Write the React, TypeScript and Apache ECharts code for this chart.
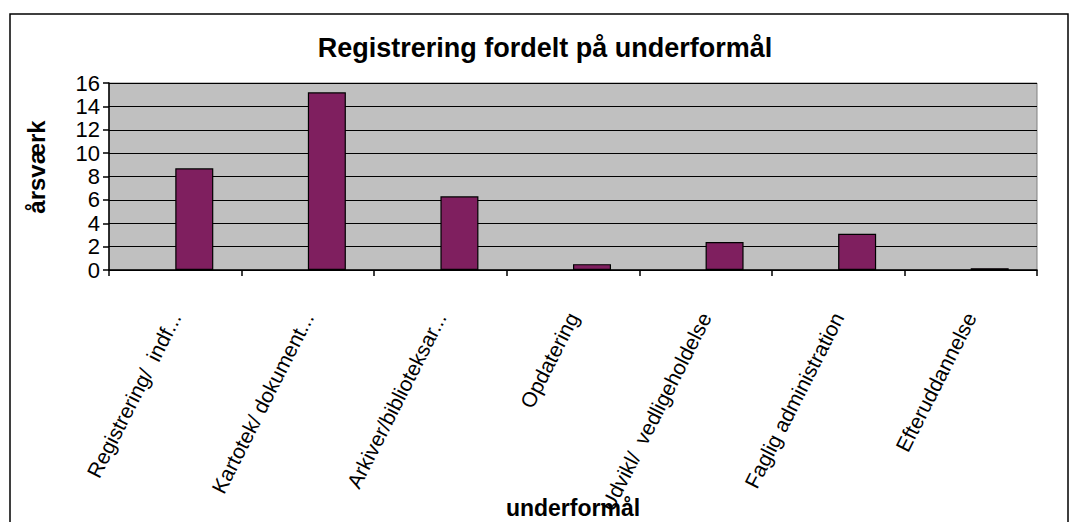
import React, { useEffect, useRef } from "react";
import * as echarts from "echarts";

const categories = [
  "Registrering/  indf...",
  "Kartotek/ dokument...",
  "Arkiver/biblioteksar...",
  "Opdatering",
  "Udvikl/  vedligeholdelse",
  "Faglig administration",
  "Efteruddannelse",
];
const values = [8.7, 15.2, 6.3, 0.5, 2.4, 3.1, 0.15];
const emptySeries = categories.map(() => null);

const titleText = "Registrering fordelt på underformål";
const yAxisTitle = "årsværk";
const xAxisTitle = "underformål";

export default function App() {
  const ref = useRef<HTMLDivElement>(null);
  useEffect(() => {
    document.body.style.margin = "0";
    const chart = echarts.init(ref.current!, null, { renderer: "svg" });
    const font = "Liberation Sans, Arial, sans-serif";
    chart.setOption({
      animation: false,
      backgroundColor: "#ffffff",
      grid: {
        left: 109,
        right: 36,
        top: 83,
        bottom: 252,
        show: true,
        backgroundColor: "#C0C0C0",
        borderColor: "#808080",
        borderWidth: 1,
      },
      graphic: [
        {
          type: "rect",
          shape: { x: 10, y: 14, width: 1058, height: 520 },
          style: { fill: "none", stroke: "#000", lineWidth: 1.5 },
          silent: true,
          z: 100,
        },
        {
          type: "text",
          x: 545,
          y: 48,
          style: {
            text: titleText,
            font: `bold 27px ${font}`,
            fill: "#000",
            textAlign: "center",
            textVerticalAlign: "middle",
          },
        },
        {
          type: "text",
          x: 36,
          y: 167,
          rotation: Math.PI / 2,
          style: {
            text: yAxisTitle,
            font: `bold 24px ${font}`,
            fill: "#000",
            textAlign: "center",
            textVerticalAlign: "middle",
          },
        },
        {
          type: "text",
          x: 573,
          y: 508,
          style: {
            text: xAxisTitle,
            font: `bold 23px ${font}`,
            fill: "#000",
            textAlign: "center",
            textVerticalAlign: "middle",
          },
        },
      ],
      xAxis: {
        type: "category",
        data: categories,
        boundaryGap: true,
        axisLine: { show: true, lineStyle: { color: "#000", width: 1.5 } },
        axisTick: { show: true, inside: false, length: 6, lineStyle: { color: "#000", width: 1.5 } },
        axisLabel: {
          interval: 0,
          rotate: 63,
          margin: 44,
          color: "#000",
          fontSize: 21,
          fontFamily: font,
        },
        splitLine: { show: false },
      },
      yAxis: {
        type: "value",
        min: 0,
        max: 16,
        interval: 2,
        axisLine: { show: true, lineStyle: { color: "#000", width: 1.5 } },
        axisTick: { show: true, inside: false, length: 6, lineStyle: { color: "#000", width: 1.5 } },
        axisLabel: {
          margin: 9,
          color: "#000",
          fontSize: 22,
          fontFamily: font,
        },
        splitLine: { show: true, lineStyle: { color: "#000", width: 1 } },
      },
      series: [
        {
          type: "bar",
          data: emptySeries,
          barWidth: 38,
          barGap: "0%",
        },
        {
          type: "bar",
          data: values,
          barWidth: 38,
          barGap: "0%",
          itemStyle: { color: "#7F1F5F", borderColor: "#000", borderWidth: 1.2 },
        },
      ],
    });
    return () => chart.dispose();
  }, []);
  return <div ref={ref} style={{ width: 1073, height: 522 }} />;
}
